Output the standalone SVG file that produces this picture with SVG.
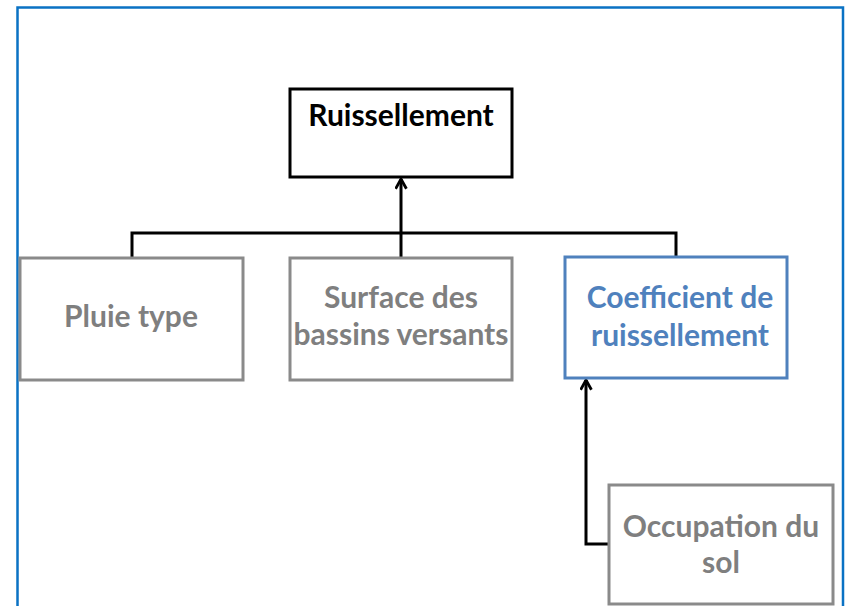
<svg xmlns="http://www.w3.org/2000/svg" width="845" height="606" viewBox="0 0 845 606">
<style>
.frame{fill:none;stroke:#0a72c4;stroke-width:2.5}
.box{fill:#ffffff;stroke-width:3}
.main{stroke:#000000}
.grey{stroke:#8a8a8a}
.blue{stroke:#4f81bd}
text{font-family:Lato,"Open Sans","Liberation Sans",sans-serif;font-weight:bold;font-size:30px;text-anchor:middle}
.tmain{fill:#000000}
.tgrey{fill:#7f7f7f}
.tblue{fill:#4f81bd}
.conn{fill:none;stroke:#000000;stroke-width:3}
</style>
<defs>
<marker id="arr" viewBox="0 0 12 12" refX="10" refY="6" markerWidth="13" markerHeight="13" markerUnits="userSpaceOnUse" orient="auto">
<path d="M1,1 L10,6 L1,11" fill="none" stroke="#000000" stroke-width="2.6"/>
</marker>
</defs>
<rect width="845" height="606" fill="#ffffff"/>
<path class="frame" d="M17.5,610 L17.5,7.5 L843,7.5 L843,610"/>
<g id="connectors">
<polyline class="conn" points="132,258 132,233 676,233 676,257"/>
<line class="conn" x1="401" y1="258" x2="401" y2="179" marker-end="url(#arr)"/>
<polyline class="conn" points="609,544 586,544 586,380" marker-end="url(#arr)"/>
</g>
<g id="ruissellement">
<rect class="box main" x="290" y="89" width="222" height="88"/>
<text class="tmain" x="401" y="126">Ruissellement</text>
</g>
<g id="pluie">
<rect class="box grey" x="20" y="258" width="223" height="122"/>
<text class="tgrey" x="131" y="327">Pluie type</text>
</g>
<g id="surface">
<rect class="box grey" x="290" y="258" width="222" height="122"/>
<text class="tgrey" x="401" y="308">Surface des</text>
<text class="tgrey" x="401" y="345">bassins versants</text>
</g>
<g id="coefficient">
<rect class="box blue" x="565" y="257" width="222" height="121"/>
<text class="tblue" x="680" y="308">Coefficient de</text>
<text class="tblue" x="680" y="346">ruissellement</text>
</g>
<g id="occupation">
<rect class="box grey" x="609" y="485" width="224" height="119"/>
<text class="tgrey" x="721" y="537">Occupation du</text>
<text class="tgrey" x="721" y="573">sol</text>
</g>
</svg>
